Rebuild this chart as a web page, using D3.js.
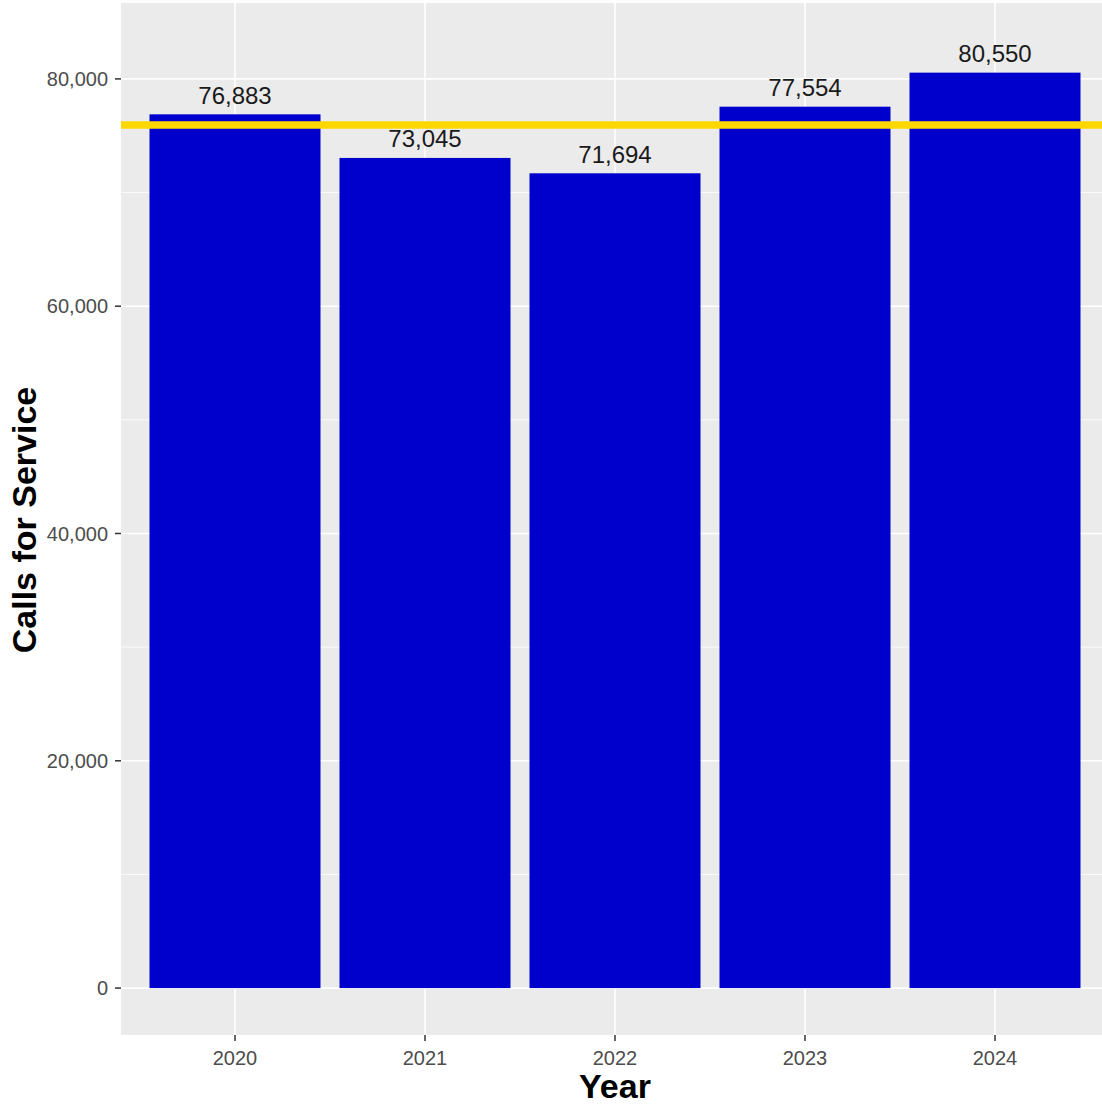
<!DOCTYPE html>
<html>
<head>
<meta charset="utf-8">
<script src="https://cdn.jsdelivr.net/npm/d3@7"></script>
<style>
  html, body { margin: 0; padding: 0; background: #fff; }
  svg { display: block; font-family: "Liberation Sans", Arial, sans-serif; }
</style>
</head>
<body>
<div id="chart"></div>
<script>
const years = ['2020', '2021', '2022', '2023', '2024'];
const calls = [76883, 73045, 71694, 77554, 80550];
const yTicks = [0, 20000, 40000, 60000, 80000];
const yMinor = [10000, 30000, 50000, 70000];

const width = 1102, height = 1104;
const panel = {left: 121, top: 3, right: 1109, bottom: 1035};

const svg = d3.select('#chart').append('svg')
  .attr('width', width).attr('height', height);

const x = d3.scaleBand().domain(years)
  .range([panel.left, panel.right])
  .paddingInner(0.1).paddingOuter(0.15);

const y = d3.scaleLinear().domain([-4128, 86678])
  .range([panel.bottom, panel.top]);

const fmt = d3.format(',');

// panel background
svg.append('rect')
  .attr('x', panel.left).attr('y', panel.top)
  .attr('width', panel.right - panel.left).attr('height', panel.bottom - panel.top)
  .attr('fill', '#EBEBEB');

const grid = svg.append('g');
grid.selectAll('line.minor').data(yMinor).enter().append('line')
  .attr('x1', panel.left).attr('x2', panel.right)
  .attr('y1', d => y(d)).attr('y2', d => y(d))
  .attr('stroke', '#fff').attr('stroke-width', 0.8);
grid.selectAll('line.major').data(yTicks).enter().append('line')
  .attr('x1', panel.left).attr('x2', panel.right)
  .attr('y1', d => y(d)).attr('y2', d => y(d))
  .attr('stroke', '#fff').attr('stroke-width', 1.6);
grid.selectAll('line.vx').data(years).enter().append('line')
  .attr('y1', panel.top).attr('y2', panel.bottom)
  .attr('x1', d => x(d) + x.bandwidth()/2).attr('x2', d => x(d) + x.bandwidth()/2)
  .attr('stroke', '#fff').attr('stroke-width', 1.6);

// bars
svg.append('g').selectAll('rect').data(years).enter().append('rect')
  .attr('x', d => x(d))
  .attr('width', x.bandwidth())
  .attr('y', (d, i) => y(calls[i]))
  .attr('height', (d, i) => y(0) - y(calls[i]))
  .attr('fill', '#0000CD');

// mean line
const avg = d3.mean(calls);
svg.append('line')
  .attr('x1', panel.left).attr('x2', panel.right)
  .attr('y1', y(avg)).attr('y2', y(avg))
  .attr('stroke', '#FFD700').attr('stroke-width', 7.5);

// value labels
svg.append('g').selectAll('text').data(years).enter().append('text')
  .attr('x', d => x(d) + x.bandwidth()/2)
  .attr('y', (d, i) => y(calls[i] + 2000))
  .attr('dy', '0.5em')
  .attr('text-anchor', 'middle')
  .attr('font-size', 24)
  .attr('fill', '#1a1a1a')
  .text((d, i) => fmt(calls[i]));

// axes
const yAxis = svg.append('g');
yAxis.selectAll('line').data(yTicks).enter().append('line')
  .attr('x1', panel.left - 6).attr('x2', panel.left)
  .attr('y1', d => y(d)).attr('y2', d => y(d))
  .attr('stroke', '#333').attr('stroke-width', 1.5);
yAxis.selectAll('text').data(yTicks).enter().append('text')
  .attr('x', panel.left - 13)
  .attr('y', d => y(d))
  .attr('dy', '0.36em')
  .attr('text-anchor', 'end')
  .attr('font-size', 20)
  .attr('fill', '#4D4D4D')
  .text(d => fmt(d));

const xAxis = svg.append('g');
xAxis.selectAll('line').data(years).enter().append('line')
  .attr('x1', d => x(d) + x.bandwidth()/2).attr('x2', d => x(d) + x.bandwidth()/2)
  .attr('y1', panel.bottom).attr('y2', panel.bottom + 6)
  .attr('stroke', '#333').attr('stroke-width', 1.5);
xAxis.selectAll('text').data(years).enter().append('text')
  .attr('x', d => x(d) + x.bandwidth()/2)
  .attr('y', panel.bottom + 30)
  .attr('text-anchor', 'middle')
  .attr('font-size', 20)
  .attr('fill', '#4D4D4D')
  .text(d => d);

// titles
svg.append('text')
  .attr('x', 615).attr('y', 1098)
  .attr('text-anchor', 'middle')
  .attr('font-size', 34).attr('font-weight', 'bold')
  .attr('fill', '#000')
  .text('Year');

svg.append('text')
  .attr('transform', 'translate(36,520) rotate(-90)')
  .attr('text-anchor', 'middle')
  .attr('font-size', 34).attr('font-weight', 'bold')
  .attr('fill', '#000')
  .text('Calls for Service');
</script>
</body>
</html>
